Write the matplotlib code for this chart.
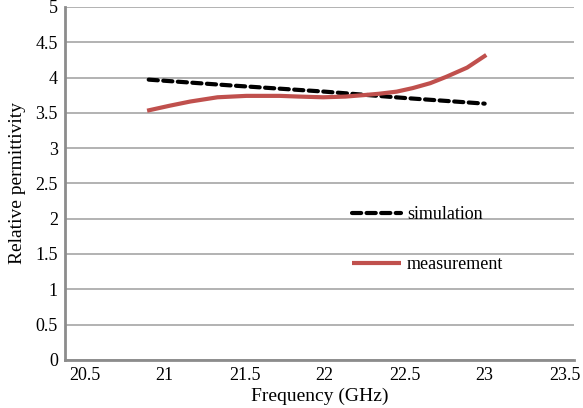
import matplotlib.pyplot as plt

plt.rcParams['font.family'] = ['Liberation Serif', 'DejaVu Serif']

# Simulated permittivity (roughly linear decline)
sim_freq = [20.9, 21.4, 22.0, 22.5, 23.0]
sim_eps = [3.97, 3.89, 3.80, 3.71, 3.63]

# Measured permittivity
meas_freq = [20.89, 21.03, 21.16, 21.33, 21.51, 21.72, 21.84, 21.99, 22.13,
             22.24, 22.34, 22.45, 22.55, 22.66, 22.76, 22.89, 23.01]
meas_eps = [3.53, 3.60, 3.66, 3.72, 3.74, 3.74, 3.73, 3.72, 3.73,
            3.75, 3.77, 3.80, 3.85, 3.92, 4.01, 4.14, 4.32]

x_ticks = [20.5, 21, 21.5, 22, 22.5, 23, 23.5]
y_ticks = [0, 0.5, 1, 1.5, 2, 2.5, 3, 3.5, 4, 4.5, 5]

fig = plt.figure(figsize=(5.83, 4.08), dpi=100)
ax = fig.add_axes([0.111, 0.118, 0.874, 0.865])

ax.plot(sim_freq, sim_eps, color='black', linestyle=(0, (2.2, 1.3)), lw=3,
        dash_capstyle='round', label='simulation')
ax.plot(meas_freq, meas_eps, color='#c0504d', lw=3, solid_capstyle='butt',
        label='measurement')

ax.set_xlim(20.375, 23.56)
ax.set_ylim(0, 5)
ax.set_xticks(x_ticks)
ax.set_xticklabels([f'{t:g}' for t in x_ticks])
ax.set_yticks(y_ticks)
ax.set_yticklabels([f'{t:g}' for t in y_ticks])
ax.tick_params(length=0, labelsize=13, pad=5)

ax.grid(axis='y', color='#a6a6a6', lw=1.2)
ax.set_axisbelow(True)
for s in ['top', 'right']:
    ax.spines[s].set_visible(False)
for s in ['left', 'bottom']:
    ax.spines[s].set_color('#8c8c8c')
    ax.spines[s].set_linewidth(2)

ax.set_xlabel('Frequency (GHz)', fontsize=14, labelpad=3)
ax.set_ylabel('Relative permittivity', fontsize=14, labelpad=7)

ax.legend(loc='upper left', bbox_to_anchor=(0.564, 0.436), frameon=False,
          fontsize=13, labelspacing=1.85, handlelength=2.7, handletextpad=0.35,
          borderpad=0, borderaxespad=0)

fig.savefig('out.png', dpi=100)
plt.close(fig)
